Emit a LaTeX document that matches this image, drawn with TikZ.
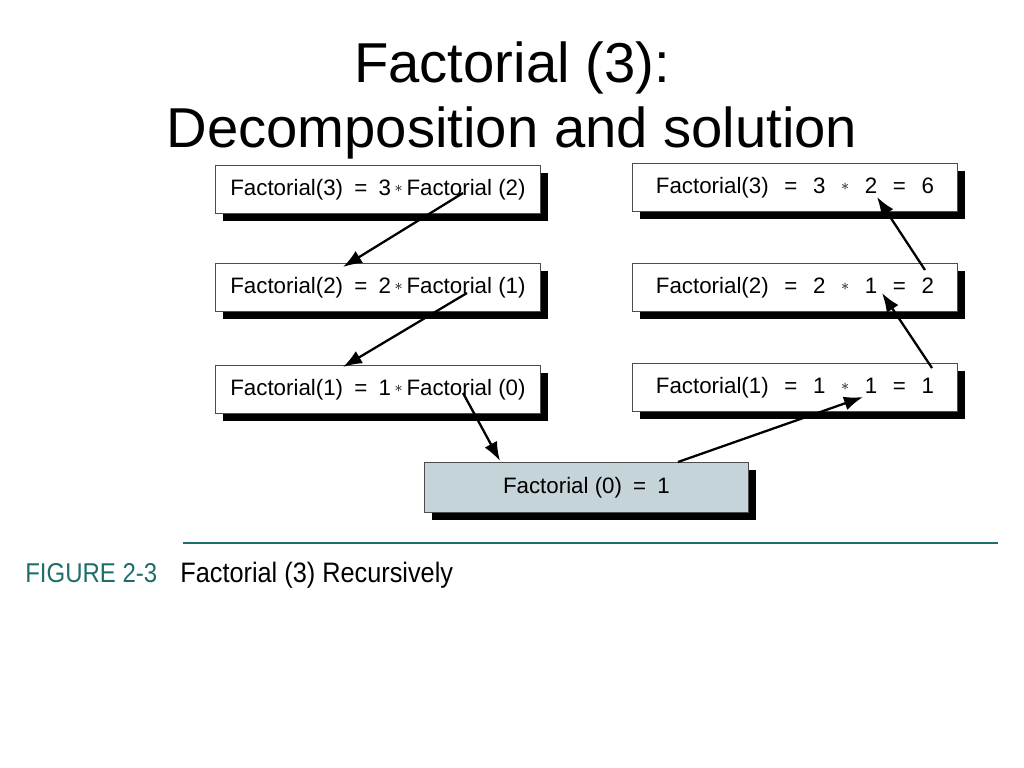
\documentclass[tikz,border=0pt]{standalone}
\usepackage{fontspec}
\setmainfont{Liberation Sans}
\usetikzlibrary{calc,shadows,arrows.meta}
\definecolor{grisbleu}{HTML}{C5D4D8}
\definecolor{sarcelle}{HTML}{1F6E6C}
\tikzstyle{boite} = [rectangle, draw=black!70, fill=white, line width=0.5pt, minimum height=0.96cm, minimum width=6.5cm, text centered, font=\fontsize{12.7}{14}\selectfont, drop shadow={shadow xshift=0.16cm, shadow yshift=-0.16cm, fill=black, opacity=1}]
\tikzstyle{fleche} = [-{Latex[length=0.38cm,width=0.28cm]}, line width=1.3pt]
\newcommand{\etoile}{\raisebox{0.2ex}{$\scriptstyle\ast$}}
\newcommand{\fois}{\,\etoile\,}
\newcommand{\esp}{\hspace{0.7em}}

\begin{document}
\begin{tikzpicture}

        \useasboundingbox (0,0) rectangle (20.48,-15.36);

        \node (T1) [anchor=base, font=\fontsize{32}{38}\selectfont] at (10.24,-1.66) {Factorial (3):};
        \node (T2) [anchor=base, font=\fontsize{32}{38}\selectfont] at (10.24,-2.96) {Decomposition and solution};

        % decomposition
        \node (L1) [boite, anchor=north west] at (4.3,-3.3) {Factorial(3)\enspace=\enspace3\fois Factorial (2)};
        \node (L2) [boite, anchor=north west] at (4.3,-5.26) {Factorial(2)\enspace=\enspace2\fois Factorial (1)};
        \node (L3) [boite, anchor=north west] at (4.3,-7.3) {Factorial(1)\enspace=\enspace1\fois Factorial (0)};

        % solution
        \node (R1) [boite, anchor=north west] at (12.64,-3.26) {Factorial(3)\esp=\esp3\esp\etoile\esp2\esp=\esp6};
        \node (R2) [boite, anchor=north west] at (12.64,-5.26) {Factorial(2)\esp=\esp2\esp\etoile\esp1\esp=\esp2};
        \node (R3) [boite, anchor=north west] at (12.64,-7.26) {Factorial(1)\esp=\esp1\esp\etoile\esp1\esp=\esp1};

        \node (B) [boite, fill=grisbleu, anchor=north west, minimum width=6.48cm, minimum height=1cm] at (8.48,-9.24) {Factorial (0)\enspace=\enspace1};

        \coordinate (d1) at ($(L1.north west) + (4.96,-0.56)$);
        \coordinate (a2) at ($(L2.north west) + (2.56,-0.08)$);
        \coordinate (d2) at ($(L2.north west) + (5.04,-0.6)$);
        \coordinate (a3) at ($(L3.north west) + (2.56,-0.04)$);
        \coordinate (d3) at ($(L3.north west) + (4.96,-0.56)$);
        \coordinate (aB) at ($(B.north west) + (1.52,0.02)$);
        \coordinate (dB) at ($(B.north west) + (5.08,0)$);
        \coordinate (r3) at ($(R3.north west) + (4.62,-0.68)$);
        \coordinate (s3) at ($(R3.north west) + (6.0,-0.1)$);
        \coordinate (r2) at ($(R2.north west) + (5.0,-0.6)$);
        \coordinate (s2) at ($(R2.north west) + (5.86,-0.14)$);
        \coordinate (r1) at ($(R1.north west) + (4.9,-0.68)$);

        \draw[fleche] (d1) -- (a2);
        \draw[fleche] (d2) -- (a3);
        \draw[fleche] (d3) -- (aB);
        \draw[fleche] (dB) -- (r3);
        \draw[fleche] (s3) -- (r2);
        \draw[fleche] (s2) -- (r1);

        % legende
        \coordinate (g) at (3.66,-10.86);
        \coordinate (h) at (19.96,-10.86);
        \draw[sarcelle, line width=1.6pt] (g) -- (h);
        \node (F) [anchor=base west, text=sarcelle, font=\fontsize{15.5}{18}\selectfont, xscale=0.88, transform shape, inner sep=0pt] at (0.5,-11.64) {FIGURE 2-3};
        \node (C) [anchor=base west, font=\fontsize{16}{18}\selectfont, xscale=0.9, transform shape, inner sep=0pt] at (3.6,-11.64) {Factorial (3) Recursively};

    \end{tikzpicture}
\end{document}
